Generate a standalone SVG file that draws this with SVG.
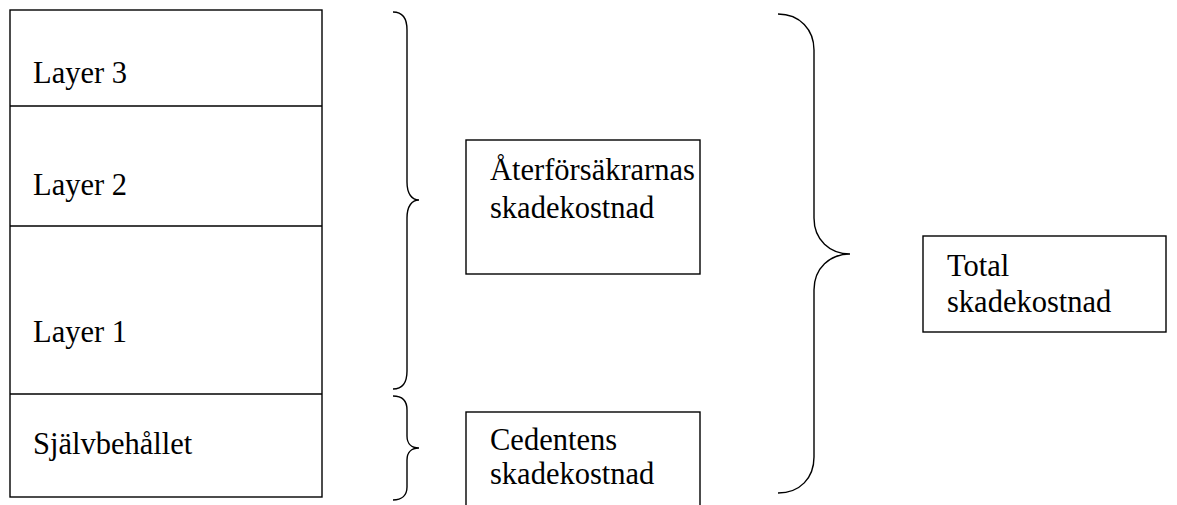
<svg xmlns="http://www.w3.org/2000/svg" width="1177" height="505" viewBox="0 0 1177 505">
<style>
.box{fill:#fff;stroke:#000;stroke-width:1.4}
.br{fill:none;stroke:#000;stroke-width:1.4}
text{font-family:"Liberation Serif","Times New Roman",serif;font-size:30.5px;fill:#000}
</style>
<rect width="1177" height="505" fill="#fff"/>
<g id="layers">
<rect class="box" x="10" y="10" width="312" height="487"/>
<line class="br" x1="10" y1="106" x2="322" y2="106"/>
<line class="br" x1="10" y1="226" x2="322" y2="226"/>
<line class="br" x1="10" y1="394" x2="322" y2="394"/>
</g>
<g id="layer3"><text x="33" y="83">Layer 3</text></g>
<g id="layer2"><text x="33" y="195">Layer 2</text></g>
<g id="layer1"><text x="33" y="342">Layer 1</text></g>
<g id="sjalvbehallet"><text x="33" y="454">Självbehållet</text></g>
<g id="connectors">
<path class="br" d="M393,12 C402,12 407,18 407,30 L407,182 C407,194 412,200 419,200 C412,200 407,206 407,218 L407,371 C407,383 402,389 393,389"/>
<path class="br" d="M393,396 C402,396 407,401 407,410 L407,436 C407,444 412,448 419,448 C412,448 407,452 407,460 L407,487 C407,495 402,500 393,500"/>
<path class="br" d="M778,14 C800,14 814,30 814,50 L814,218 C814,240 830,254 850,254 C830,254 814,268 814,290 L814,457 C814,478 800,493 778,493"/>
</g>
<g id="aterforsakrarnas">
<rect class="box" x="466" y="140" width="234" height="134"/>
<text x="490" y="180">Återförsäkrarnas</text>
<text x="490" y="218">skadekostnad</text>
</g>
<g id="cedentens">
<rect class="box" x="466" y="412" width="234" height="110"/>
<text x="490" y="450">Cedentens</text>
<text x="490" y="484">skadekostnad</text>
</g>
<g id="total">
<rect class="box" x="923" y="236" width="243" height="96"/>
<text x="947" y="276">Total</text>
<text x="947" y="312">skadekostnad</text>
</g>
</svg>
